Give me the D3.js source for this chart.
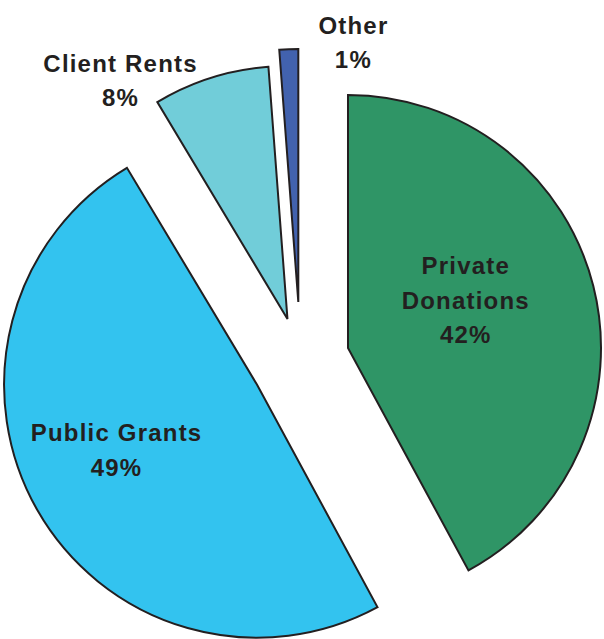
<!DOCTYPE html>
<html>
<head>
<meta charset="utf-8">
<script src="https://cdn.jsdelivr.net/npm/d3@7"></script>
<style>
  body { margin: 0; background: #fff; }
  svg { display: block; }
  .sliceLabel { font-family: "Liberation Sans", Arial, sans-serif; font-weight: bold; font-size: 24px; letter-spacing: 1.2px; fill: #231F20; }
</style>
</head>
<body>
<div id="chart"></div>
<script>
// values, labels as printed
var categories = ["Private Donations", "Public Grants", "Client Rents", "Other"];
var shares = [42.1, 49.3, 7.4, 1.2];
var shareLabels = ["42%", "49%", "8%", "1%"];
var labelLines = [["Private", "Donations"], ["Public Grants"], ["Client Rents"], ["Other"]];

var colors = ["#2F9566", "#33C3EF", "#71CDD9", "#4262AE"];
var explode = [49, 50, 43, 58];
// label placement, polar from each slice's tip: [angle in degrees, distance]
var labelPolar = [[68, 127], [245, 155], [325, 291], [12, 265]];

var width = 604,
    height = 639,
    cx = 300.5,
    cy = 360,
    radius = 253,
    lineHeight = 34.5;

var svg = d3.select("#chart").append("svg")
    .attr("width", width)
    .attr("height", height);

var pie = d3.pie()
    .sort(null)
    .value(function(d) { return d; });

var arc = d3.arc()
    .innerRadius(0)
    .outerRadius(radius);

var arcs = pie(shares);

function polar(angle, r) {
  return [Math.sin(angle) * r, -Math.cos(angle) * r];
}

var slices = svg.selectAll("g.slice")
    .data(arcs)
    .enter().append("g")
    .attr("class", "slice")
    .attr("transform", function(d, i) {
      var mid = (d.startAngle + d.endAngle) / 2;
      var off = polar(mid, explode[i]);
      return "translate(" + (cx + off[0]) + "," + (cy + off[1]) + ")";
    });

slices.append("path")
    .attr("d", arc)
    .style("fill", function(d, i) { return colors[i]; })
    .style("stroke", "#231F20")
    .style("stroke-width", 2)
    .style("stroke-linejoin", "miter");

var labels = slices.append("text")
    .attr("class", "sliceLabel")
    .attr("text-anchor", "middle")
    .attr("transform", function(d, i) {
      var p = polar(labelPolar[i][0] * Math.PI / 180, labelPolar[i][1]);
      return "translate(" + p[0] + "," + p[1] + ")";
    });

labels.each(function(d, i) {
  var lines = labelLines[i].concat([shareLabels[i]]);
  var top = -(lines.length - 1) * lineHeight / 2;
  var t = d3.select(this);
  lines.forEach(function(line, j) {
    t.append("tspan")
        .attr("x", 0)
        .attr("y", top + j * lineHeight)
        .attr("dy", "0.35em")
        .text(line);
  });
});
</script>
</body>
</html>
